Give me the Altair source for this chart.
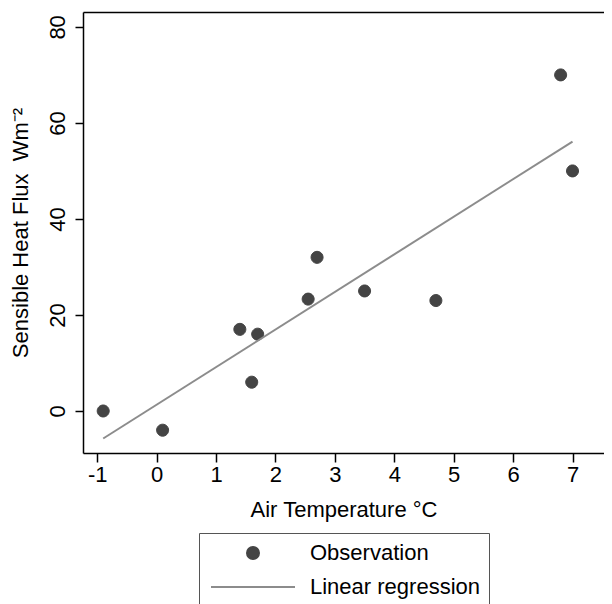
import altair as alt
import pandas as pd

# Data
temp = [-0.9, 0.1, 1.4, 1.7, 1.6, 2.55, 2.7, 3.5, 4.7, 6.8, 7.0]
flux = [0, -4, 17, 16, 6, 23.3, 32, 25, 23, 70, 50]
series_names = ["Observation", "Linear regression"]
x_ticks = [-1, 0, 1, 2, 3, 4, 5, 6, 7]
y_ticks = [0, 20, 40, 60, 80]

df = pd.DataFrame({"temp": temp, "flux": flux, "series": ["Observation"] * len(temp)})

FONT = "Liberation Sans"
FS = 22
CIRCLE = "M-1,0A1,1 0 1,0 1,0A1,1 0 1,0 -1,0Z"
LINE = "M-7,0L7,0"

x_scale = alt.Scale(domain=[-1.24, 7.53], nice=False, zero=False)
y_scale = alt.Scale(domain=[-8.75, 83.1], nice=False, zero=False)
color_scale = alt.Scale(domain=series_names, range=["#444444", "#8c8c8c"])
shape_scale = alt.Scale(domain=series_names, range=[CIRCLE, LINE])

x_axis = alt.Axis(values=x_ticks, title="Air Temperature °C", grid=False,
                  tickSize=9, labelPadding=2, titlePadding=14,
                  labelExpr="'' + datum.value")
y_axis = alt.Axis(values=y_ticks, title="Sensible Heat Flux\u00a0\u00a0Wm⁻²", grid=False,
                  tickSize=8, labelAngle=270, labelAlign="center", labelBaseline="bottom",
                  labelPadding=6, titlePadding=14, labelExpr="'' + datum.value")

legend = alt.Legend(orient="none", legendX=116, legendY=521, title=None,
                    strokeColor="#555555", padding=9, symbolSize=144,
                    symbolOffset=34, labelOffset=46, rowPadding=12,
                    labelFontSize=FS, labelFont=FONT, labelColor="black",
                    labelLimit=400, symbolStrokeWidth=2)

points = alt.Chart(df).mark_point(filled=False, fill="#444444", size=144,
                                  strokeWidth=1, opacity=1).encode(
    x=alt.X("temp:Q", scale=x_scale, axis=x_axis),
    y=alt.Y("flux:Q", scale=y_scale, axis=y_axis),
    color=alt.Color("series:N", scale=color_scale, legend=legend),
    shape=alt.Shape("series:N", scale=shape_scale, legend=legend),
)

reg = alt.Chart(df).transform_regression("temp", "flux").mark_line(
    color="#8c8c8c", strokeWidth=2
).encode(
    x=alt.X("temp:Q", scale=x_scale,
            axis=alt.Axis(orient="top", labels=False, ticks=False, title=None, grid=False)),
    y=alt.Y("flux:Q", scale=y_scale),
)

chart = alt.layer(points, reg).resolve_axis(x="independent").properties(
    width=521, height=441, autosize="none",
    padding={"left": 75, "top": 4, "right": 0, "bottom": 151},
).configure_view(stroke=None).configure_axis(
    domainColor="black", domainWidth=1.5, tickColor="black", tickWidth=1.5,
    labelFont=FONT, titleFont=FONT, labelFontSize=FS, titleFontSize=FS,
    labelColor="black", titleColor="black", titleFontWeight="normal",
)

chart.save("out.html", embed_options={"renderer": "svg", "actions": False})
